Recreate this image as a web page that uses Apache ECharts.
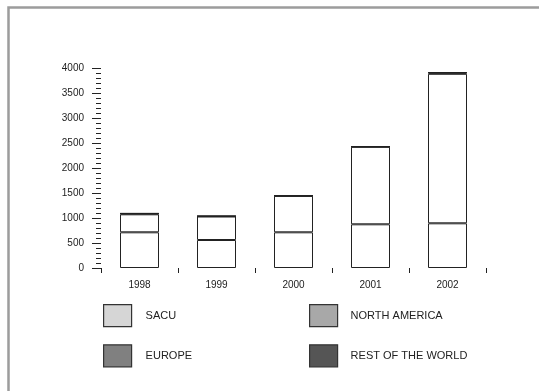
<!DOCTYPE html>
<html>
<head>
<meta charset="utf-8">
<script src="https://cdn.jsdelivr.net/npm/echarts@6/dist/echarts.min.js"></script>
<style>
  html, body { margin: 0; padding: 0; background: #fff; }
  #chart { width: 539px; height: 391px; }
</style>
</head>
<body>
<div id="chart"></div>
<script>
// Export volumes by destination, stacked per year
const years = ['1998', '1999', '2000', '2001', '2002'];
const seriesNames = ['SACU', 'NORTH AMERICA', 'EUROPE', 'REST OF THE WORLD'];
const sacu = [714, 560, 714, 874, 894];
const northAmerica = [360, 470, 728, 1550, 2990];
const europe = [15, 8, 3, 3, 22];
const restOfWorld = [5, 2, 1, 1, 8];
const legendColors = ['#d6d6d6', '#a8a8a8', '#808080', '#555555'];

const values = [sacu, northAmerica, europe, restOfWorld];
const font = '"Liberation Sans", Arial, sans-serif';

const chart = echarts.init(document.getElementById('chart'), null, { renderer: 'canvas' });

const legendItem = (i) => ({
  name: seriesNames[i],
  itemStyle: { color: legendColors[i], borderColor: '#333', borderWidth: 1.2 }
});

chart.setOption({
  animation: false,
  backgroundColor: '#fff',
  graphic: [{
    type: 'rect',
    shape: { x: 8.5, y: 7.5, width: 700, height: 600 },
    style: { fill: 'none', stroke: '#9c9c9c', lineWidth: 2.5 },
    silent: true
  }],
  grid: { left: 101, right: 53, top: 68, bottom: 123 },
  legend: [
    {
      orient: 'vertical', left: 98, top: 299, itemGap: 17,
      icon: 'rect', itemWidth: 28, itemHeight: 22,
      selectedMode: false,
      textStyle: { fontFamily: font, fontSize: 11, color: '#222', padding: [0, 0, 0, 9] },
      data: [legendItem(0), legendItem(2)]
    },
    {
      orient: 'vertical', left: 304, top: 299, itemGap: 17,
      icon: 'rect', itemWidth: 28, itemHeight: 22,
      selectedMode: false,
      textStyle: { fontFamily: font, fontSize: 11, color: '#222', padding: [0, 0, 0, 8] },
      data: [legendItem(1), legendItem(3)]
    }
  ],
  xAxis: {
    type: 'category',
    data: years,
    offset: 2,
    axisLine: { show: false },
    axisTick: { show: true, length: 5, lineStyle: { color: '#222', width: 1 } },
    axisLabel: { margin: 10, fontFamily: font, fontSize: 10, color: '#222' },
    splitLine: { show: false }
  },
  yAxis: {
    type: 'value',
    min: 0, max: 4000, interval: 500,
    axisLine: { show: false },
    axisTick: { show: true, length: 9, lineStyle: { color: '#222', width: 1 } },
    minorTick: { show: true, splitNumber: 5, length: 5, lineStyle: { color: '#222', width: 1 } },
    axisLabel: {
      margin: 17, fontFamily: font, fontSize: 10, color: '#222',
      formatter: (v) => String(v)
    },
    splitLine: { show: false }
  },
  series: seriesNames.map((name, i) => ({
    name,
    type: 'bar',
    stack: 'total',
    barWidth: 39,
    data: values[i],
    itemStyle: { color: '#ffffff', borderColor: '#222', borderWidth: 1 }
  }))
});
</script>
</body>
</html>
